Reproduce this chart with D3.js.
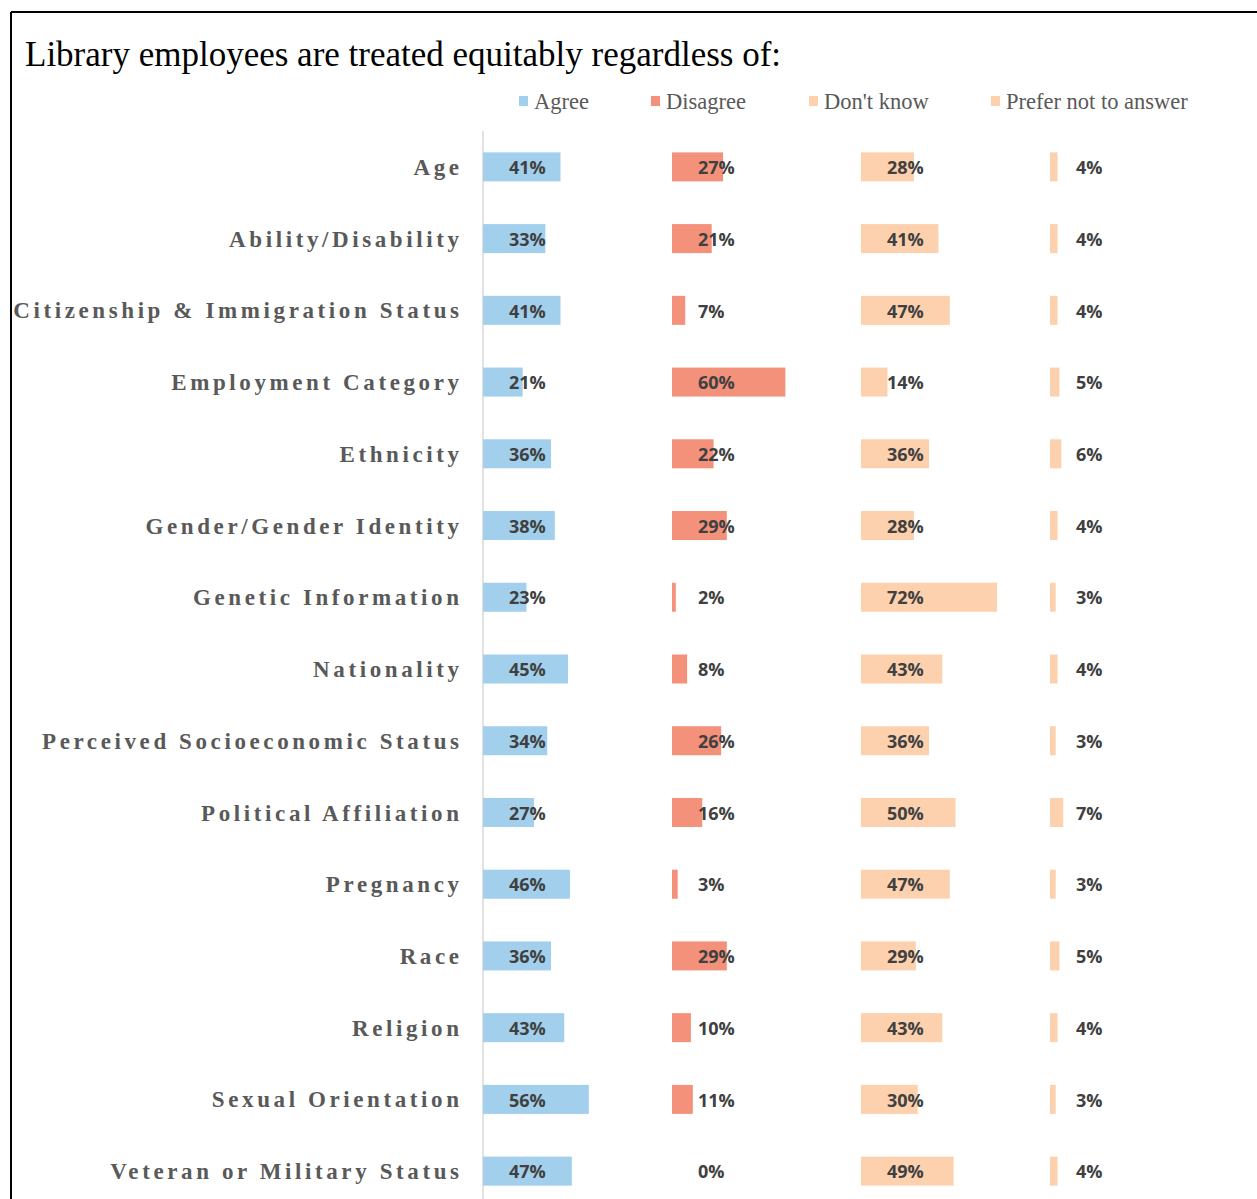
<!DOCTYPE html>
<html>
<head>
<meta charset="utf-8">
<script src="https://cdn.jsdelivr.net/npm/d3@7"></script>
<style>
  html, body { margin: 0; padding: 0; background: #fff; }
  svg { display: block; }
</style>
</head>
<body>
<svg id="chart" width="1257" height="1199"></svg>
<script>
const categories = [
  "Age", "Ability/Disability", "Citizenship & Immigration Status", "Employment Category",
  "Ethnicity", "Gender/Gender Identity", "Genetic Information", "Nationality",
  "Perceived Socioeconomic Status", "Political Affiliation", "Pregnancy", "Race",
  "Religion", "Sexual Orientation", "Veteran or Military Status"
];
const seriesNames = ["Agree", "Disagree", "Don't know", "Prefer not to answer"];
const agree      = [41, 33, 41, 21, 36, 38, 23, 45, 34, 27, 46, 36, 43, 56, 47];
const disagree   = [27, 21, 7, 60, 22, 29, 2, 8, 26, 16, 3, 29, 10, 11, 0];
const dontKnow   = [28, 41, 47, 14, 36, 28, 72, 43, 36, 50, 47, 29, 43, 30, 49];
const preferNot  = [4, 4, 4, 5, 6, 4, 3, 4, 3, 7, 3, 5, 4, 3, 4];
const colors     = ["#a2cfec", "#f3917a", "#fdd0ae", "#fdd0ae"];
const title = "Library employees are treated equitably regardless of:";

const seriesValues = [agree, disagree, dontKnow, preferNot];
const svg = d3.select("#chart");

// frame
svg.append("line").attr("x1", 11).attr("x2", 11).attr("y1", 12).attr("y2", 1199)
  .attr("stroke", "#000").attr("stroke-width", 2);
svg.append("line").attr("x1", 11).attr("x2", 1257).attr("y1", 12).attr("y2", 12)
  .attr("stroke", "#000").attr("stroke-width", 2);

// title
svg.append("text").attr("x", 25).attr("y", 66)
  .attr("font-family", "'Liberation Serif', 'Times New Roman', serif")
  .attr("font-size", 35).attr("fill", "#000").text(title);

// scales
const panel = d3.scaleBand().domain(seriesNames).range([483, 483 + 4 * 189]);
const x = d3.scaleLinear().domain([0, 100]).range([0, 189]);
const y = d3.scaleBand().domain(categories).range([131, 1207]);
const barH = 29;

// legend
const legendX = [519, 651, 809, 991];
const lg = svg.append("g");
seriesNames.forEach((s, i) => {
  lg.append("rect").attr("x", legendX[i]).attr("y", 96).attr("width", 9).attr("height", 10)
    .attr("fill", colors[i]);
  lg.append("text").attr("x", legendX[i] + 15).attr("y", 109)
    .attr("font-family", "'Liberation Serif', 'Times New Roman', serif")
    .attr("font-size", 22.5).attr("fill", "#595959").text(s);
});

// axis line
svg.append("line").attr("x1", 483).attr("x2", 483).attr("y1", 131).attr("y2", 1199)
  .attr("stroke", "#d9d9d9").attr("stroke-width", 1.5);

// category labels
const ls = 3.6;
svg.append("g").selectAll("text").data(categories).join("text")
  .attr("x", 459 + ls).attr("y", d => y(d) + y.bandwidth() / 2)
  .attr("dy", "0.35em").attr("text-anchor", "end")
  .attr("font-family", "'Liberation Serif', 'Times New Roman', serif")
  .attr("font-weight", "bold").attr("font-size", 23)
  .attr("letter-spacing", ls).attr("fill", "#595959")
  .text(d => d);

// bars + labels
seriesNames.forEach((s, i) => {
  const data = categories.map((c, j) => ({ c, v: seriesValues[i][j] }));
  const g = svg.append("g").attr("transform", `translate(${panel(s)},0)`);
  g.selectAll("rect").data(data).join("rect")
    .attr("x", 0).attr("y", d => y(d.c) + y.bandwidth() / 2 - barH / 2)
    .attr("width", d => x(d.v)).attr("height", barH)
    .attr("fill", colors[i]);
  g.selectAll("text").data(data).join("text")
    .attr("x", 26).attr("y", d => y(d.c) + y.bandwidth() / 2)
    .attr("dy", "0.4em")
    .attr("font-family", "'Open Sans', sans-serif").attr("font-weight", 700)
    .attr("font-size", 18).attr("fill", "#404040")
    .text(d => d.v + "%");
});
</script>
</body>
</html>
